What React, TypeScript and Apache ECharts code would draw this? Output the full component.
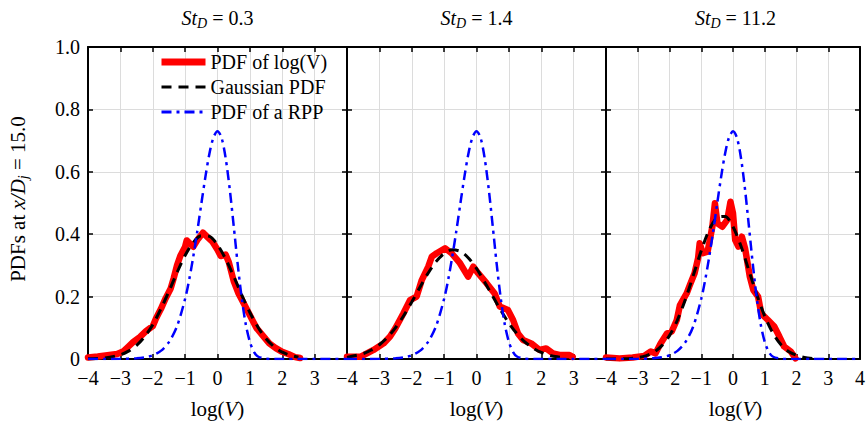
import React, { useEffect, useRef } from 'react';
import * as echarts from 'echarts';

const FONT = "'Liberation Serif', 'Times New Roman', serif";

const xTicks = [-4, -3, -2, -1, 0, 1, 2, 3, 4];
const stValues = ['0.3', '1.4', '11.2'];
const legendNames = ['PDF of log(V)', 'Gaussian PDF', 'PDF of a RPP'];

// PDF of a random Poisson process (same in every panel)
const rpp: number[][] = [
  [-4, 0], [-3.5, 0], [-3, 0.0004], [-2.5, 0.0024], [-2.25, 0.0055], [-2, 0.012], [-1.75, 0.026],
  [-1.5, 0.054], [-1.25, 0.105], [-1, 0.193], [-0.875, 0.254], [-0.75, 0.327], [-0.625, 0.409],
  [-0.5, 0.497], [-0.375, 0.583], [-0.25, 0.658], [-0.125, 0.71], [0, 0.73], [0.125, 0.709],
  [0.25, 0.645], [0.375, 0.547], [0.5, 0.427], [0.625, 0.303], [0.75, 0.194], [0.875, 0.11],
  [1, 0.055], [1.125, 0.023], [1.25, 0.008], [1.5, 0.001], [1.75, 0], [2, 0], [2.5, 0], [3, 0],
  [3.5, 0], [4, 0],
];

// St_D = 0.3
const red1: number[][] = [
  [-4.0, 0.005], [-3.7, 0.008], [-3.4, 0.012], [-3.1, 0.016], [-2.9, 0.025], [-2.75, 0.04],
  [-2.6, 0.055], [-2.4, 0.07], [-2.2, 0.09], [-2.0, 0.105], [-1.9, 0.13], [-1.75, 0.16],
  [-1.6, 0.195], [-1.45, 0.225], [-1.35, 0.26], [-1.25, 0.3], [-1.15, 0.33], [-1.0, 0.36],
  [-0.95, 0.38], [-0.85, 0.37], [-0.75, 0.36], [-0.6, 0.385], [-0.45, 0.405], [-0.3, 0.39],
  [-0.15, 0.375], [0.0, 0.35], [0.1, 0.33], [0.25, 0.335], [0.35, 0.31], [0.5, 0.25],
  [0.65, 0.21], [0.8, 0.18], [1.0, 0.14], [1.2, 0.1], [1.4, 0.075], [1.6, 0.05], [1.8, 0.035],
  [2.0, 0.023], [2.2, 0.015], [2.4, 0.006], [2.55, 0.003],
];
const gauss1: number[][] = [
  [-4, 0.0006], [-3.5, 0.0033], [-3, 0.0135], [-2.75, 0.0251], [-2.5, 0.0438], [-2.25, 0.0717],
  [-2, 0.11], [-1.75, 0.16], [-1.5, 0.217], [-1.25, 0.277], [-1, 0.332], [-0.75, 0.373],
  [-0.5, 0.395], [-0.25, 0.393], [0, 0.366], [0.25, 0.321], [0.5, 0.265], [0.75, 0.205],
  [1, 0.149], [1.25, 0.102], [1.5, 0.065], [1.75, 0.039], [2, 0.022], [2.25, 0.012], [2.5, 0.006],
];

// St_D = 1.4
const red2: number[][] = [
  [-4.0, 0.007], [-3.59, 0.007], [-3.18, 0.029], [-2.87, 0.05], [-2.67, 0.072], [-2.51, 0.098],
  [-2.26, 0.146], [-2.05, 0.189], [-1.85, 0.2], [-1.69, 0.253], [-1.49, 0.296], [-1.38, 0.328],
  [-1.23, 0.339], [-0.97, 0.355], [-0.77, 0.339], [-0.51, 0.307], [-0.26, 0.264], [-0.1, 0.296],
  [0.05, 0.275], [0.31, 0.243], [0.56, 0.21], [0.72, 0.168], [0.97, 0.157], [1.13, 0.125],
  [1.28, 0.082], [1.44, 0.061], [1.69, 0.05], [1.95, 0.029], [2.15, 0.034], [2.36, 0.018],
  [2.56, 0.013], [2.87, 0.013], [2.97, 0.007],
];
const gauss2: number[][] = [
  [-4, 0.0053], [-3.5, 0.0172], [-3.25, 0.0287], [-3, 0.0457], [-2.75, 0.0695], [-2.5, 0.1006],
  [-2.25, 0.1388], [-2, 0.1827], [-1.75, 0.229], [-1.5, 0.274], [-1.25, 0.312], [-1, 0.338],
  [-0.75, 0.35], [-0.5, 0.345], [-0.25, 0.324], [0, 0.29], [0.25, 0.247], [0.5, 0.201],
  [0.75, 0.156], [1, 0.115], [1.25, 0.081], [1.5, 0.054], [1.75, 0.035], [2, 0.021],
  [2.25, 0.012], [2.5, 0.007], [2.75, 0.004],
];

// St_D = 11.2
const red3: number[][] = [
  [-4.0, 0.005], [-3.57, 0.002], [-3.16, 0.005], [-2.8, 0.01], [-2.59, 0.024], [-2.44, 0.018],
  [-2.28, 0.05], [-2.08, 0.082], [-1.93, 0.088], [-1.77, 0.125], [-1.67, 0.173], [-1.46, 0.21],
  [-1.36, 0.237], [-1.21, 0.275], [-1.1, 0.323], [-1.05, 0.371], [-0.95, 0.339], [-0.8, 0.344],
  [-0.65, 0.424], [-0.57, 0.499], [-0.49, 0.435], [-0.34, 0.424], [-0.18, 0.446], [-0.08, 0.504],
  [0.0, 0.467], [0.07, 0.381], [0.17, 0.36], [0.28, 0.392], [0.38, 0.355], [0.53, 0.264],
  [0.64, 0.221], [0.79, 0.2], [0.89, 0.146], [1.1, 0.125], [1.3, 0.104], [1.46, 0.072],
  [1.61, 0.04], [1.82, 0.024], [1.97, 0.002],
];
const gauss3: number[][] = [
  [-4, 0.0001], [-3.5, 0.0006], [-3, 0.0043], [-2.75, 0.01], [-2.5, 0.021], [-2.25, 0.042],
  [-2, 0.075], [-1.75, 0.125], [-1.5, 0.191], [-1.25, 0.268], [-1, 0.347], [-0.75, 0.414],
  [-0.5, 0.453], [-0.25, 0.457], [0, 0.424], [0.25, 0.362], [0.5, 0.284], [0.75, 0.206],
  [1, 0.137], [1.25, 0.084], [1.5, 0.047], [1.75, 0.024], [2, 0.012], [2.25, 0.005], [2.5, 0.002],
];

const reds = [red1, red2, red3];
const gausses = [gauss1, gauss2, gauss3];

const fmtX = (v: number) => (v < 0 ? '\u2212' + Math.abs(v) : String(v));

export default function App() {
  const ref = useRef<HTMLDivElement>(null);
  useEffect(() => {
    document.body.style.margin = '0';
    const chart = echarts.init(ref.current!, null, { renderer: 'svg' });
    const lefts = [88, 347, 606];
    const W = 259;
    const TOP = 47;
    const H = 312;

    const grids = lefts.map((l) => ({ left: l, top: TOP, width: W, height: H }));
    const axisLine = { show: true, onZero: false, lineStyle: { color: '#000', width: 2 } };
    const axisTick = { show: true, inside: true, length: 5, lineStyle: { color: '#000', width: 1.5 } };
    const xAxis: any[] = [];
    const yAxis: any[] = [];
    lefts.forEach((_, i) => {
      xAxis.push({
        type: 'value', gridIndex: i, min: xTicks[0], max: xTicks[xTicks.length - 1], interval: 1, position: 'bottom',
        axisLine, axisTick,
        axisLabel: {
          color: '#000', fontFamily: FONT, fontSize: 20, margin: 9,
          formatter: (v: number) => (i < 2 && v === 4 ? '' : fmtX(v)),
        },
        splitLine: { show: true, lineStyle: { color: '#dcdcdc', width: 1 } },
      });
      xAxis.push({
        type: 'value', gridIndex: i, min: -4, max: 4, interval: 1, position: 'top',
        axisLine, axisTick, axisLabel: { show: false }, splitLine: { show: false },
      });
      yAxis.push({
        type: 'value', gridIndex: i, min: 0, max: 1, interval: 0.2, position: 'left',
        axisLine, axisTick,
        axisLabel: {
          show: i === 0, color: '#000', fontFamily: FONT, fontSize: 20, margin: 8,
          formatter: (v: number) => (v === 0 ? '0' : v.toFixed(1)),
        },
        splitLine: { show: true, lineStyle: { color: '#dcdcdc', width: 1 } },
      });
      yAxis.push({
        type: 'value', gridIndex: i, min: 0, max: 1, interval: 0.2, position: 'right',
        axisLine, axisTick, axisLabel: { show: false }, splitLine: { show: false },
      });
    });

    const series: any[] = [];
    lefts.forEach((_, i) => {
      series.push({
        type: 'line', name: legendNames[0], xAxisIndex: 2 * i, yAxisIndex: 2 * i,
        data: reds[i], showSymbol: false, symbol: 'none', z: 2,
        lineStyle: { color: '#ff0000', width: 6.5, cap: 'round', join: 'round' },
        itemStyle: { color: '#ff0000' },
      });
      series.push({
        type: 'line', name: legendNames[1], xAxisIndex: 2 * i, yAxisIndex: 2 * i,
        data: gausses[i], showSymbol: false, symbol: 'none', smooth: 0.3, z: 3,
        lineStyle: { color: '#000', width: 3, type: [10, 7] },
        itemStyle: { color: '#000' },
      });
      series.push({
        type: 'line', name: legendNames[2], xAxisIndex: 2 * i, yAxisIndex: 2 * i,
        data: rpp, showSymbol: false, symbol: 'none', smooth: 0.3, z: 4,
        lineStyle: { color: '#0000ff', width: 2.5, type: [10, 5, 3, 5] },
        itemStyle: { color: '#0000ff' },
      });
    });

    const titleRich = {
      it: { fontFamily: FONT, fontStyle: 'italic', fontSize: 20, color: '#000' },
      sub: { fontFamily: FONT, fontStyle: 'italic', fontSize: 14, color: '#000', verticalAlign: 'bottom', padding: [10, 0, 0, 0] },
      n: { fontFamily: FONT, fontSize: 20, color: '#000' },
    };
    const bigRich = {
      ...titleRich,
      it: { ...titleRich.it, fontSize: 21 },
      n: { ...titleRich.n, fontSize: 21 },
    };

    const graphics: any[] = stValues.map((s, i) => ({
      type: 'text', x: lefts[i] + W / 2, y: 18,
      style: {
        text: `{it|St}{sub|D}{n| = ${s}}`, rich: titleRich,
        align: 'center', verticalAlign: 'middle',
      },
    }));
    lefts.forEach((l) => {
      graphics.push({
        type: 'text', x: l + W / 2, y: 409,
        style: {
          text: '{n|log(}{it|V}{n|)}', rich: bigRich,
          align: 'center', verticalAlign: 'middle',
        },
      });
    });
    graphics.push({
      type: 'text', x: 18, y: 199, rotation: Math.PI / 2,
      style: {
        text: '{n|PDFs at }{it|x/D}{sub|j}{n| = 15.0}',
        rich: bigRich,
        align: 'center', verticalAlign: 'middle',
      },
    });

    chart.setOption({
      animation: false,
      grid: grids,
      xAxis,
      yAxis,
      series,
      legend: {
        data: [
          { name: legendNames[0], icon: 'path://M0,0H44V7H0Z', itemStyle: { opacity: 1, color: '#ff0000' } },
          { name: legendNames[1] },
          { name: legendNames[2] },
        ],
        left: 160, top: 52, orient: 'vertical', padding: 0,
        itemWidth: 44, itemHeight: 14, itemGap: 5, selectedMode: false,
        itemStyle: { opacity: 0 },
        lineStyle: { width: 3 },
        textStyle: { fontFamily: FONT, fontSize: 20, color: '#000' },
      },
      graphic: graphics,
    });
    return () => chart.dispose();
  }, []);
  return <div ref={ref} style={{ width: 868, height: 427 }} />;
}
